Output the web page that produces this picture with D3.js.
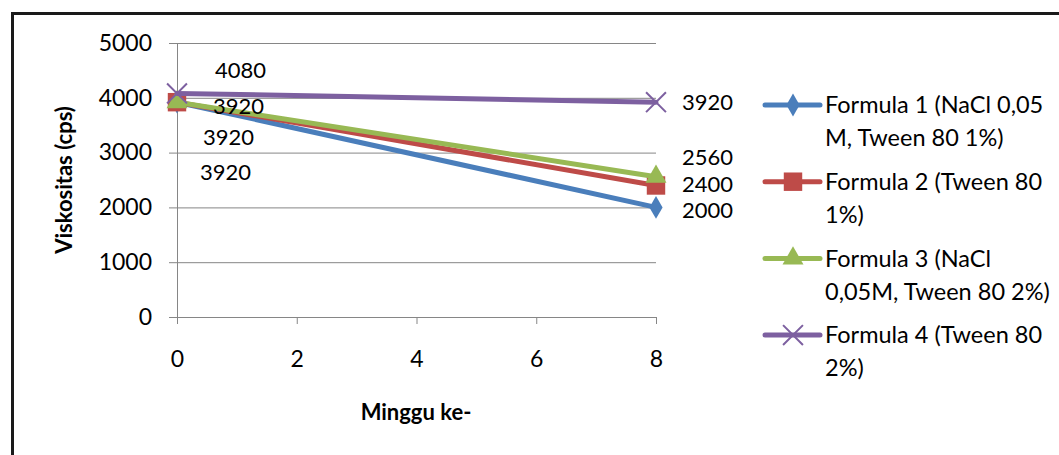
<!DOCTYPE html>
<html>
<head>
<meta charset="utf-8">
<script src="https://cdn.jsdelivr.net/npm/d3@7"></script>
<style>
  body { margin: 0; background: #fff; overflow: hidden; }
  svg { display: block; font-family: Lato, "Open Sans", sans-serif; }
</style>
</head>
<body>
<script>
// data
var weeks = [0, 8];
var seriesNames = ["Formula 1 (NaCl 0,05 M, Tween 80 1%)", "Formula 2 (Tween 80 1%)",
                   "Formula 3 (NaCl 0,05M, Tween 80 2%)", "Formula 4 (Tween 80 2%)"];
var legendLines = [["Formula 1 (NaCl 0,05", "M, Tween 80 1%)"], ["Formula 2 (Tween 80", "1%)"],
                   ["Formula 3 (NaCl", "0,05M, Tween 80 2%)"], ["Formula 4 (Tween 80", "2%)"]];
var formula1 = [3920, 2000];
var formula2 = [3920, 2400];
var formula3 = [3920, 2560];
var formula4 = [4080, 3920];
var yTicks = [0, 1000, 2000, 3000, 4000, 5000];
var xTicks = [0, 2, 4, 6, 8];

var colors = ["#4a7ebb", "#be4b48", "#98b954", "#7d60a0"];
var markers = ["diamond", "square", "triangle", "x"];
// manual data label nudges [week0, week8] as [dx, dy]
var labelNudge = [[[23, 70], [26, 3]], [[26, 35], [26, -1]], [[36, 4], [26, -19]], [[38, -23], [26, 0]]];

var allSeries = [formula1, formula2, formula3, formula4];

var W = 1059, H = 455;
var svg = d3.select("body").append("svg").attr("width", W).attr("height", H);

svg.append("rect").attr("x", 0).attr("y", 0).attr("width", W).attr("height", H).attr("fill", "#fff");

// chart frame: only the top and left edges are in the picture
svg.append("path")
  .attr("d", "M12.5," + H + "V13.5H" + W)
  .attr("fill", "none").attr("stroke", "#1a1a1a").attr("stroke-width", 3);

var x = d3.scaleLinear().domain([0, 8]).range([177, 656]);
var y = d3.scaleLinear().domain([0, 5000]).range([317, 43]);

// gridlines
svg.append("g")
  .attr("transform", "translate(177,0)")
  .call(d3.axisLeft(y).tickValues(yTicks).tickSize(-(656 - 177)).tickFormat(""))
  .call(function(g){ g.select(".domain").remove(); })
  .selectAll("line").attr("stroke", "#868686");

// y axis
var yAxis = svg.append("g")
  .attr("transform", "translate(177,0)")
  .call(d3.axisLeft(y).tickValues(yTicks).tickFormat(d3.format("d"))
    .tickSize(8).tickSizeOuter(0).tickPadding(17));
yAxis.select(".domain").attr("stroke", "#868686");
yAxis.selectAll("line").attr("stroke", "#868686");
yAxis.selectAll("text").attr("font-size", 23).attr("fill", "#000").attr("font-family", "Lato");

// x axis
var xAxis = svg.append("g")
  .attr("transform", "translate(0,317)")
  .call(d3.axisBottom(x).tickValues(xTicks).tickSize(7).tickSizeOuter(0).tickPadding(27));
xAxis.select(".domain").attr("stroke", "#868686");
xAxis.selectAll("line").attr("stroke", "#868686");
xAxis.selectAll("text").attr("font-size", 23).attr("fill", "#000").attr("font-family", "Lato");

// axis titles
svg.append("text")
  .attr("transform", "translate(72,180) rotate(-90)")
  .attr("text-anchor", "middle")
  .attr("font-size", 22).attr("font-weight", "bold")
  .text("Viskositas (cps)");

svg.append("text")
  .attr("x", 416).attr("y", 420)
  .attr("text-anchor", "middle")
  .attr("font-size", 22).attr("font-weight", "bold")
  .text("Minggu ke-");

function drawMarker(g, type, cx, cy, color) {
  if (type === "diamond") {
    g.append("path").attr("d", d3.symbol().type(d3.symbolDiamond).size(150)())
      .attr("transform", "translate(" + cx + "," + cy + ")").attr("fill", color);
  } else if (type === "square") {
    g.append("path").attr("d", d3.symbol().type(d3.symbolSquare).size(340)())
      .attr("transform", "translate(" + cx + "," + cy + ")").attr("fill", color);
  } else if (type === "triangle") {
    g.append("path").attr("d", d3.symbol().type(d3.symbolTriangle).size(190)())
      .attr("transform", "translate(" + cx + "," + cy + ")").attr("fill", color);
  } else {
    g.append("path").attr("d", d3.symbol().type(d3.symbolX).size(260)())
      .attr("transform", "translate(" + cx + "," + cy + ")")
      .attr("fill", "none").attr("stroke", color).attr("stroke-width", 2);
  }
}

var line = d3.line().x(function(d, i){ return x(weeks[i]); }).y(function(d){ return y(d); });

allSeries.forEach(function(vals, s) {
  var g = svg.append("g");
  g.append("path").datum(vals).attr("d", line)
    .attr("fill", "none").attr("stroke", colors[s]).attr("stroke-width", 5)
    .attr("stroke-linecap", "round");
  vals.forEach(function(v, i) {
    drawMarker(g, markers[s], x(weeks[i]), y(v), colors[s]);
  });
});

// data labels
allSeries.forEach(function(vals, s) {
  vals.forEach(function(v, i) {
    svg.append("text")
      .attr("x", x(weeks[i]) + labelNudge[s][i][0])
      .attr("y", y(v) + labelNudge[s][i][1])
      .attr("dy", "0.35em")
      .attr("font-size", 22)
      .text(v);
  });
});

// legend
var legend = svg.append("g");
legendLines.forEach(function(lines, s) {
  var cy = 105 + s * 76.7;
  legend.append("line").attr("x1", 765).attr("x2", 820).attr("y1", cy).attr("y2", cy)
    .attr("stroke", colors[s]).attr("stroke-width", 5).attr("stroke-linecap", "round");
  drawMarker(legend, markers[s], 793, cy, colors[s]);
  lines.forEach(function(t, k) {
    legend.append("text").attr("x", 825).attr("y", cy + k * 33).attr("dy", "0.35em")
      .attr("font-size", 23.5).text(t);
  });
});
</script>
</body>
</html>
